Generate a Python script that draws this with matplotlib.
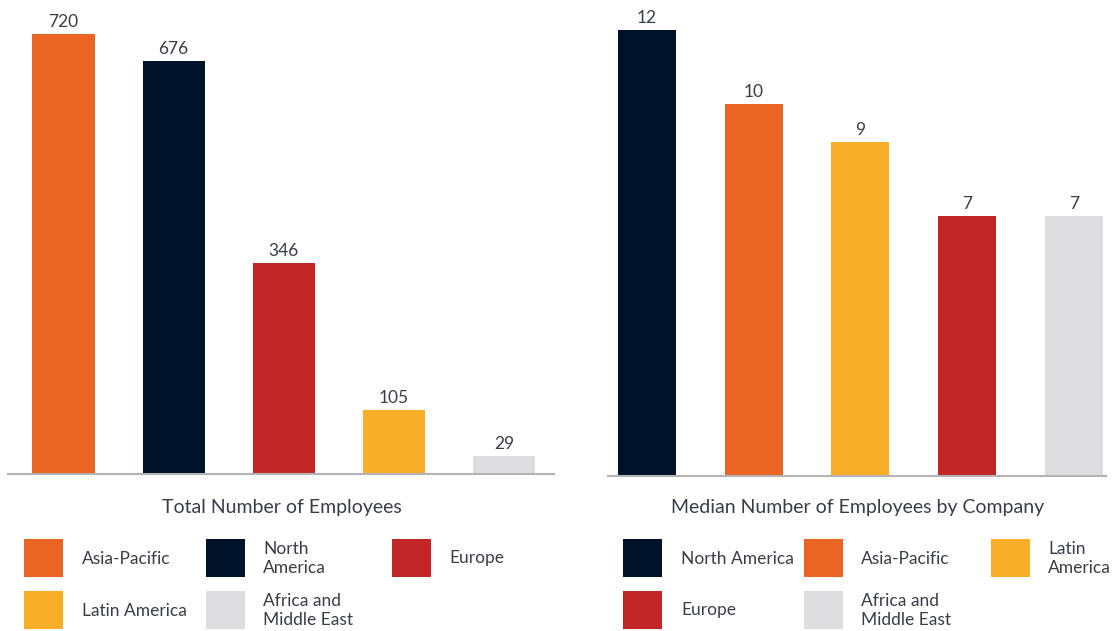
import matplotlib
matplotlib.use("Agg")
import matplotlib.pyplot as plt
from matplotlib.patches import Rectangle

# data
total_regions = ["Asia-Pacific", "North America", "Europe", "Latin America", "Africa and Middle East"]
total_values = [720, 676, 346, 105, 29]
median_regions = ["North America", "Asia-Pacific", "Latin America", "Europe", "Africa and Middle East"]
median_values = [12, 10, 9, 7, 7]

region_colors = {
    "Asia-Pacific": "#EA6424",
    "North America": "#001229",
    "Europe": "#C22626",
    "Latin America": "#F8AE29",
    "Africa and Middle East": "#DEDEE0",
}

left_title = "Total Number of Employees"
right_title = "Median Number of Employees by Company"

# legend layouts: (label text, region) per row
left_legend = [
    [("Asia-Pacific", "Asia-Pacific"), ("North\nAmerica", "North America"), ("Europe", "Europe")],
    [("Latin America", "Latin America"), ("Africa and\nMiddle East", "Africa and Middle East")],
]
right_legend = [
    [("North America", "North America"), ("Asia-Pacific", "Asia-Pacific"), ("Latin\nAmerica", "Latin America")],
    [("Europe", "Europe"), ("Africa and\nMiddle East", "Africa and Middle East")],
]

W, H = 1112, 631
TEXT = "#3a3d47"
plt.rcParams["font.family"] = ["Lato", "DejaVu Sans"]

fig = plt.figure(figsize=(W / 100, H / 100), dpi=100)


def px_axes(x0, x1, y_top, y_base):
    return fig.add_axes([x0 / W, 1 - y_base / H, (x1 - x0) / W, (y_base - y_top) / H])


def bar_panel(ax, regions, values, width, xlim, ytop):
    xs = range(len(values))
    ax.bar(xs, values, width=width, color=[region_colors[r] for r in regions])
    ax.set_xlim(*xlim)
    ax.set_ylim(0, ytop)
    for x, v in zip(xs, values):
        ax.annotate(str(v), (x, v), xytext=(0, 5), textcoords="offset points",
                    ha="center", va="baseline", fontsize=12.5, color=TEXT)
    for s in ["top", "right", "left"]:
        ax.spines[s].set_visible(False)
    ax.spines["bottom"].set_color("#b3b3b3")
    ax.spines["bottom"].set_linewidth(1.5)
    ax.set_xticks([])
    ax.set_yticks([])


axL = px_axes(8, 554, 0, 474)
bar_panel(axL, total_regions, total_values, 0.565, (-0.504, 4.454), 720 * 474 / 440)

axR = px_axes(608, 1106, 0, 476)
bar_panel(axR, median_regions, median_values, 0.543, (-0.365, 4.30), 12 * 476 / 446)

fig.text(281.5 / W, 1 - 507 / H, left_title, ha="center", va="center", fontsize=14, color=TEXT)
fig.text(857.5 / W, 1 - 507 / H, right_title, ha="center", va="center", fontsize=14, color=TEXT)


def draw_legend(rows, sq_x, txt_x):
    row_y = [539, 591]
    for r, row in enumerate(rows):
        for c, (label, region) in enumerate(row):
            y0 = row_y[r]
            fig.add_artist(Rectangle((sq_x[c] / W, 1 - (y0 + 38) / H), 39 / W, 38 / H,
                                     transform=fig.transFigure, facecolor=region_colors[region],
                                     edgecolor="none"))
            fig.text(txt_x[c] / W, 1 - (y0 + 19.5) / H, label, ha="left", va="center",
                     fontsize=12.5, color=TEXT, linespacing=1.22)


draw_legend(left_legend, [24, 206, 392], [82, 263, 449])
draw_legend(right_legend, [623, 804, 991], [681, 861, 1048])

fig.savefig("out.png", dpi=100, facecolor="white")
